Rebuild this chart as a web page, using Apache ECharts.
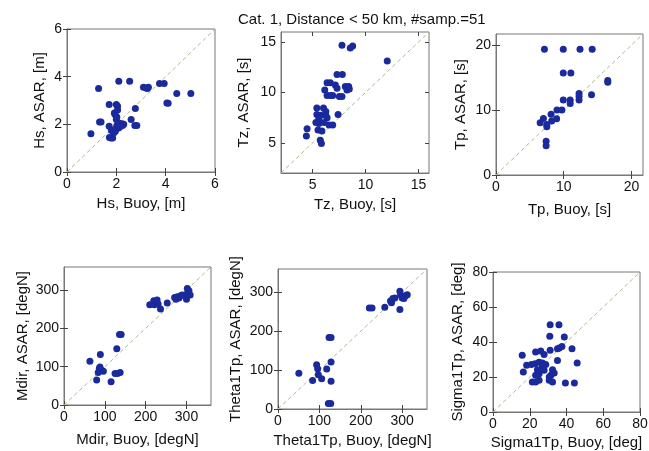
<!DOCTYPE html>
<html>
<head>
<meta charset="utf-8">
<script src="https://cdn.jsdelivr.net/npm/echarts@6/dist/echarts.min.js"></script>
<style>
  html, body { margin: 0; padding: 0; background: #fff; }
  #chart { width: 649px; height: 451px; }
</style>
</head>
<body>
<div id="chart"></div>
<script>
// values (buoy on x, ASAR on y)
const hsBuoy = [0.97,1.28,1.32,1.38,1.71,1.71,1.78,1.72,1.85,1.80,1.96,2.09,2.23,2.00,2.05,1.92,1.95,2.02,2.00,2.05,1.98,2.15,2.30,2.10,2.54,2.77,2.60,2.75,2.83,3.10,3.21,3.26,3.30,3.75,3.94,4.05,4.10,4.45,5.02,1.90,2.02,2.12,1.88,2.25];
const hsAsar = [1.60,3.50,2.10,2.10,2.83,1.92,1.43,1.45,1.43,1.74,1.71,1.85,2.02,2.83,2.76,2.48,2.41,2.31,2.20,2.60,1.80,1.90,2.00,3.81,3.81,2.66,2.20,1.95,1.95,3.56,3.52,3.50,3.56,3.71,3.71,2.90,2.88,3.29,3.29,1.65,1.95,2.05,1.75,1.95];

const tzBuoy = [7.77,8.55,8.78,12.05,7.3,7.8,6.36,6.67,6.14,7.14,7.3,8.08,8.4,8.24,8.46,6.36,6.67,6.89,7.52,7.77,5.39,6.02,5.39,5.77,6.24,6.36,5.58,5.3,5.58,6.08,6.55,6.89,7.4,5.5,5.87,4.47,4.4,5.72,5.82,6.24];
const tzAsar = [14.68,14.41,14.61,13.13,11.79,11.79,10.97,10.97,10.25,10.74,10.42,10.58,10.58,10.25,10.35,9.69,9.69,9.69,9.59,9.59,8.46,8.46,7.81,7.74,7.74,7.48,7.41,7.02,6.92,7.02,6.76,6.76,7.81,6.27,6.17,6.4,5.68,5.26,4.93,8.1];

const tpBuoy = [7.15,9.93,12.4,14.2,9.93,11.05,16.5,16.5,12.26,12.26,14.1,9.93,10.95,10.95,12.26,9.73,9.0,8.13,8.22,8.95,7.0,6.52,7.5,7.5,7.4,7.4];
const tpAsar = [19.37,19.37,19.37,19.37,15.68,15.68,14.53,14.28,12.56,12.1,12.35,11.53,11.53,11.0,11.53,10.02,10.02,9.35,8.3,8.67,8.71,8.05,7.79,7.43,5.19,4.52];

const mdirBuoy = [63.5,89,80,86.5,92,83.8,96.4,88,115.3,125,131,137.5,129.3,135.9,140,210,219.8,228,221.4,230.5,236.3,252.8,270.9,277.4,281.5,285.7,274.2,302,306,300,309,300,289.7];
const mdirAsar = [114,132,65,95,90.7,84.7,88,99,60.4,82,82,84.7,146.8,184,184,261.7,272,273.7,261.7,263.4,250.5,266,280.6,282.4,279,285,276,304,298,289,286.7,276,286.7];

const thetaBuoy = [50.4,83.6,93.3,95.8,97.4,105.5,117.7,128.2,128.2,123.4,128.2,121.7,127.4,220.7,227.2,258,271.8,277.5,282.4,274.3,294.5,296,300.1,304.2,312.3,308.2,294.5];
const thetaAsar = [91.8,73,113.8,103.6,88.3,78,102.8,120.7,71.4,183.7,183.7,14.3,14.3,260,260,261.7,278,284,285.7,273,302.6,294,285.7,284,294,291,255.9];

const sigmaBuoy = [31.1,35.9,30.9,38.8,37.5,36.1,35.1,43,31.1,23.2,26,27.8,15.9,35.1,45.8,18.3,20.9,22.9,25.1,26.9,28.7,26.9,16.5,24.2,26,27.8,25.1,23.2,32.4,33.3,31.5,30.6,21.4,23.2,25.1,30.6,32.4,39.4,44.3];
const sigmaAsar = [49.9,49.9,43.3,42.9,37.5,36.6,36.2,36.2,35.3,34.3,34.8,32.8,32.4,29.5,28,26.7,27.2,27.6,28.5,28,27.2,25.8,22.9,24.2,23.8,23.8,21.9,21,24.2,22.3,21,20,17.1,17.1,18.2,18.2,17.1,16.6,16.6];

// axis ranges and tick labels
const hsRange = [0, 6],      hsTicks = [0, 2, 4, 6];
const tzRange = [2, 16],     tzTicks = [5, 10, 15];
const tpRange = [0, 21.7],   tpTicks = [0, 10, 20];
const dirRange = [0, 360],   dirTicks = [0, 100, 200, 300];
const sigRange = [0, 80],    sigTicks = [0, 20, 40, 60, 80];

const titleText = 'Cat. 1, Distance < 50 km, #samp.=51';

const panels = [
  { x: hsBuoy, y: hsAsar, range: hsRange, ticks: hsTicks, xName: 'Hs, Buoy, [m]', yName: 'Hs, ASAR, [m]' },
  { x: tzBuoy, y: tzAsar, range: tzRange, ticks: tzTicks, xName: 'Tz, Buoy, [s]', yName: 'Tz, ASAR, [s]' },
  { x: tpBuoy, y: tpAsar, range: tpRange, ticks: tpTicks, xName: 'Tp, Buoy, [s]', yName: 'Tp, ASAR, [s]' },
  { x: mdirBuoy, y: mdirAsar, range: dirRange, ticks: dirTicks, xName: 'Mdir, Buoy, [degN]', yName: 'Mdir, ASAR, [degN]' },
  { x: thetaBuoy, y: thetaAsar, range: dirRange, ticks: dirTicks, xName: 'Theta1Tp, Buoy, [degN]', yName: 'Theta1Tp, ASAR, [degN]' },
  { x: sigmaBuoy, y: sigmaAsar, range: sigRange, ticks: sigTicks, xName: 'Sigma1Tp, Buoy, [deg]', yName: 'Sigma1Tp, ASAR, [deg]' }
];

// plot boxes, in pixels
const layout = [
  { left: 67,  top: 29,  width: 148, height: 143, xGap: 24, yGap: 20 },
  { left: 281, top: 32,  width: 148, height: 141, xGap: 24, yGap: 30 },
  { left: 496, top: 34,  width: 147, height: 141, xGap: 27, yGap: 28 },
  { left: 64,  top: 267, width: 147, height: 138, xGap: 27, yGap: 34 },
  { left: 278, top: 269, width: 149, height: 140, xGap: 24, yGap: 35 },
  { left: 493, top: 272, width: 147, height: 140, xGap: 23, yGap: 28 }
];

const font = 'Liberation Sans, Arial, sans-serif';
const textColor = '#111';
const dotColor = '#1a2a9c';
const frameColor = '#777';

const grids = [], xAxes = [], yAxes = [], series = [];

panels.forEach((p, i) => {
  const L = layout[i];
  grids.push({
    left: L.left, top: L.top, width: L.width, height: L.height,
    show: true, borderColor: frameColor, borderWidth: 1,
    containLabel: false, outerBoundsMode: 'none'
  });
  const tick = { show: true, inside: true, length: 4, customValues: p.ticks, lineStyle: { color: '#444' } };
  const base = {
    gridIndex: i, type: 'value', min: p.range[0], max: p.range[1],
    splitLine: { show: false }
  };
  xAxes.push({
    ...base, position: 'bottom',
    axisLine: { show: true, lineStyle: { color: frameColor } },
    axisTick: tick,
    axisLabel: { customValues: p.ticks, margin: 5, fontSize: 14, color: textColor, fontFamily: font },
    name: p.xName, nameLocation: 'middle', nameGap: L.xGap,
    nameTextStyle: { fontSize: 15, color: textColor, fontFamily: font }
  });
  xAxes.push({
    ...base, position: 'top',
    axisLine: { show: false }, axisTick: tick, axisLabel: { show: false }
  });
  yAxes.push({
    ...base, position: 'left',
    axisLine: { show: true, lineStyle: { color: frameColor } },
    axisTick: tick,
    axisLabel: { customValues: p.ticks, margin: 5, fontSize: 14, color: textColor, fontFamily: font },
    name: p.yName, nameLocation: 'middle', nameGap: L.yGap,
    nameTextStyle: { fontSize: 15, color: textColor, fontFamily: font }
  });
  yAxes.push({
    ...base, position: 'right',
    axisLine: { show: false }, axisTick: tick, axisLabel: { show: false }
  });

  // 1:1 reference line
  series.push({
    type: 'line', xAxisIndex: 2 * i, yAxisIndex: 2 * i,
    data: [[p.range[0], p.range[0]], [p.range[1], p.range[1]]],
    symbol: 'none', silent: true, z: 1,
    lineStyle: { color: '#a9bb8f', width: 1, type: [4, 3] }
  });
  series.push({
    type: 'scatter', xAxisIndex: 2 * i, yAxisIndex: 2 * i,
    data: p.x.map((v, k) => [v, p.y[k]]),
    symbolSize: 7, z: 3,
    itemStyle: { color: dotColor, opacity: 1 }
  });
});

const chart = echarts.init(document.getElementById('chart'), null, { renderer: 'canvas' });
chart.setOption({
  animation: false,
  backgroundColor: '#fff',
  title: {
    text: titleText, left: 233, top: 7,
    textStyle: { fontSize: 15, fontWeight: 'normal', color: textColor, fontFamily: font }
  },
  grid: grids,
  xAxis: xAxes,
  yAxis: yAxes,
  series: series
});
</script>
</body>
</html>
